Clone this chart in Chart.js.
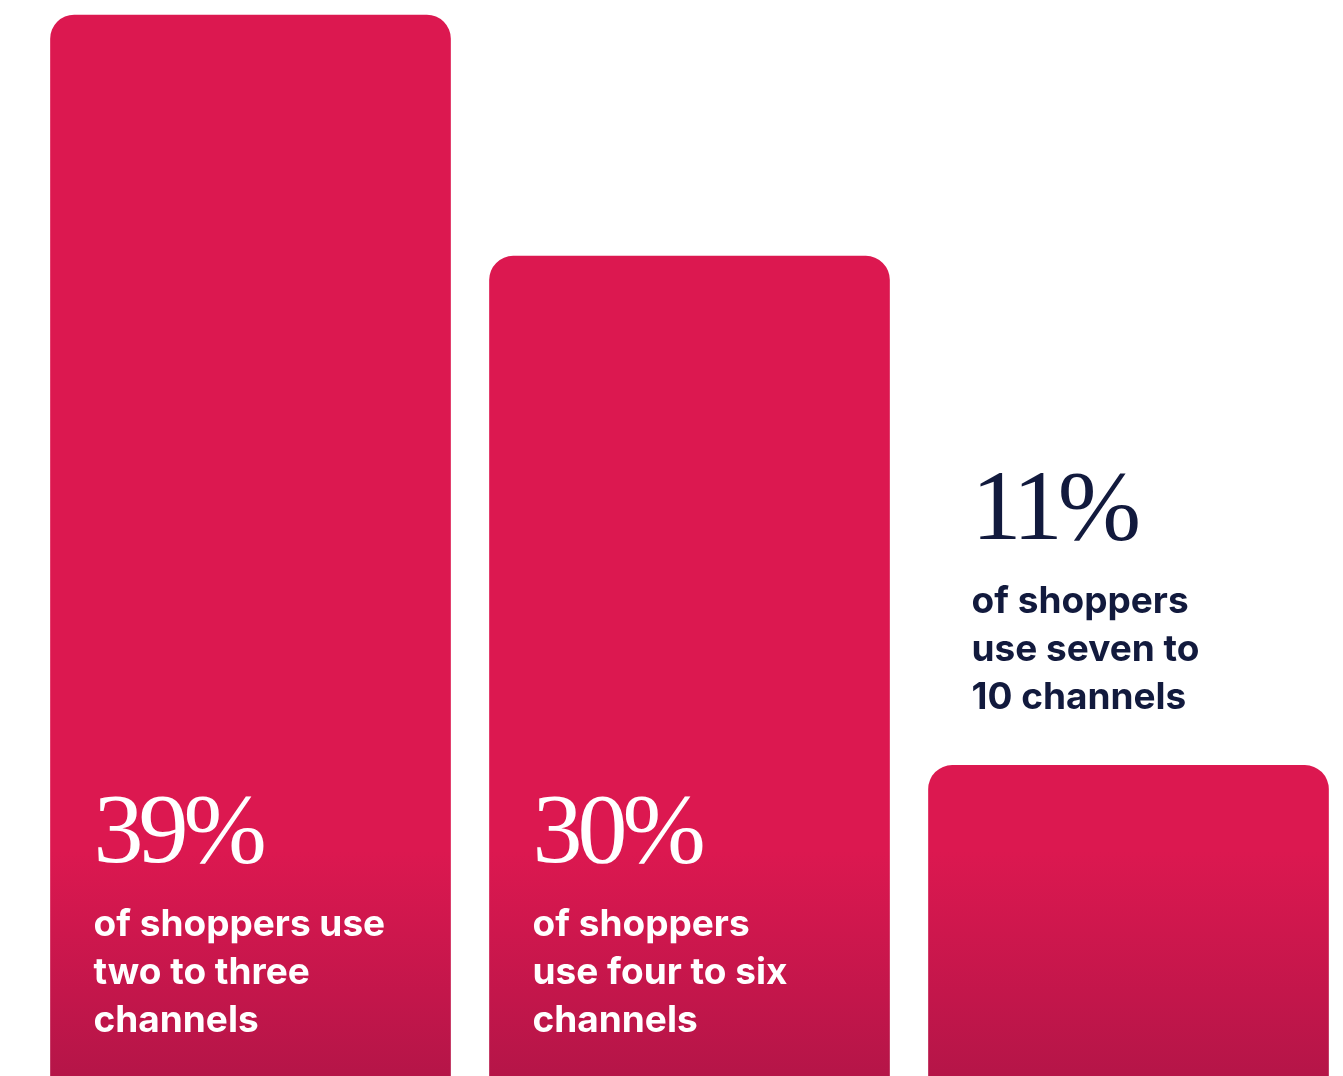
<!DOCTYPE html>
<html>
<head>
<meta charset="utf-8">
<script src="https://cdn.jsdelivr.net/npm/chart.js@4"></script>
<style>
  html, body { margin: 0; padding: 0; background: #ffffff; overflow: hidden; }
  #wrap { width: 1348px; height: 1076px; position: relative; }
</style>
</head>
<body>
<div id="wrap"><canvas id="chart"></canvas></div>
<script>
// Données du graphique
const categories = ['2-3 channels', '4-6 channels', '7-10 channels'];
const shareValues = [39, 30, 11];
const pctLabels = ['39%', '30%', '11%'];
const descLines = [
  ['of shoppers use', 'two to three', 'channels'],
  ['of shoppers', 'use four to six', 'channels'],
  ['of shoppers', 'use seven to', '10 channels']
];

const ctx = document.getElementById('chart');

// Dégradé vertical commun aux barres (foncé vers le bas)
function barGradient(context) {
  const area = context.chart.chartArea;
  if (!area) return '#DC1850';
  const g = context.chart.ctx.createLinearGradient(0, 0, 0, 1076);
  g.addColorStop(0, '#DC1850');
  g.addColorStop(0.79, '#DC1850');
  g.addColorStop(1, '#B51548');
  return g;
}

// Textes : pourcentage en serif + description en gras
const labelPlugin = {
  id: 'barLabels',
  afterDatasetsDraw(chart) {
    const c = chart.ctx;
    const meta = chart.getDatasetMeta(0);
    meta.data.forEach((bar, i) => {
      const left = bar.x - bar.width / 2 + 43;
      const inside = bar.y < 700;
      const base = inside ? 862 : bar.y - 226;
      const color = inside ? '#ffffff' : '#121a3d';
      c.save();
      c.fillStyle = color;
      c.textAlign = 'left';
      c.textBaseline = 'alphabetic';
      c.font = '100px "Liberation Serif", "DejaVu Serif", serif';
      c.letterSpacing = '-5px';
      c.fillText(pctLabels[i], left, base);
      c.font = 'bold 37px Inter, "Open Sans", sans-serif';
      c.letterSpacing = '0px';
      descLines[i].forEach((line, j) => {
        c.fillText(line, left, base + 74 + j * 48);
      });
      c.restore();
    });
  }
};

new Chart(ctx, {
  type: 'bar',
  data: {
    labels: categories,
    datasets: [{
      data: shareValues,
      base: -2,
      backgroundColor: barGradient,
      borderRadius: { topLeft: 24, topRight: 24, bottomLeft: 0, bottomRight: 0 },
      borderSkipped: 'start',
      barThickness: 400
    }]
  },
  options: {
    responsive: true,
    maintainAspectRatio: false,
    animation: false,
    layout: { padding: { left: 31, right: 0, top: 0, bottom: 0 } },
    plugins: { legend: { display: false }, tooltip: { enabled: false } },
    scales: {
      x: { display: false },
      y: { display: false, min: -0.59, max: 39.56 }
    }
  },
  plugins: [labelPlugin]
});
</script>
</body>
</html>
